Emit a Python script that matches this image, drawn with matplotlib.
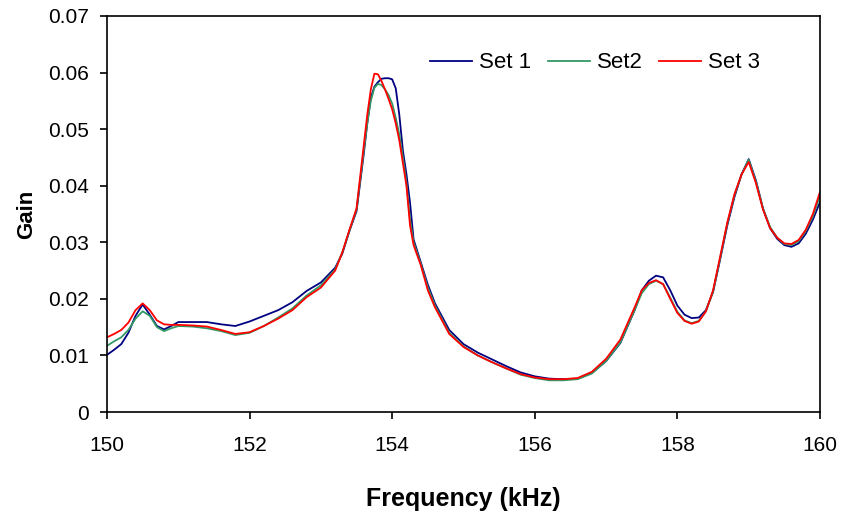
import numpy as np
import matplotlib.pyplot as plt

plt.rcParams['font.family'] = ['Liberation Sans', 'DejaVu Sans']

freq = [150.0, 150.1, 150.2, 150.3, 150.4, 150.5, 150.6, 150.7, 150.8, 150.9,
        151.0, 151.2, 151.4, 151.6, 151.8, 152.0, 152.2, 152.4, 152.6, 152.8,
        153.0, 153.2, 153.3, 153.4, 153.5, 153.6, 153.65, 153.7, 153.75, 153.8,
        153.85, 153.9, 153.95, 154.0, 154.05, 154.1, 154.15, 154.2, 154.25, 154.3,
        154.4, 154.5, 154.6, 154.8, 155.0, 155.2, 155.4, 155.6, 155.8, 156.0,
        156.2, 156.4, 156.6, 156.8, 157.0, 157.2, 157.4, 157.5, 157.6, 157.7,
        157.8, 157.9, 158.0, 158.1, 158.2, 158.3, 158.4, 158.5, 158.6, 158.7,
        158.8, 158.9, 159.0, 159.1, 159.2, 159.3, 159.4, 159.5, 159.6, 159.7,
        159.8, 159.9, 160.0]

set1 = [0.0101, 0.0110, 0.0120, 0.0140, 0.0170, 0.0190, 0.0172, 0.0152, 0.0146, 0.0152,
        0.0159, 0.0159, 0.0159, 0.0155, 0.0152, 0.0160, 0.0170, 0.0180, 0.0194, 0.0214,
        0.0229, 0.0255, 0.0280, 0.0320, 0.0355, 0.0455, 0.0510, 0.0555, 0.0575, 0.0583,
        0.0589, 0.0590, 0.0590, 0.0588, 0.0572, 0.0525, 0.0462, 0.0420, 0.0370, 0.0305,
        0.0265, 0.0225, 0.0192, 0.0145, 0.0120, 0.0105, 0.0093, 0.0081, 0.0070, 0.0063,
        0.0059, 0.0058, 0.0059, 0.0069, 0.0090, 0.0122, 0.0180, 0.0215, 0.0232, 0.0241,
        0.0238, 0.0215, 0.0188, 0.0172, 0.0166, 0.0167, 0.0180, 0.0212, 0.0270, 0.0330,
        0.0380, 0.0420, 0.0447, 0.0410, 0.0360, 0.0325, 0.0306, 0.0295, 0.0292, 0.0298,
        0.0315, 0.0340, 0.0371]

set2 = [0.0117, 0.0125, 0.0132, 0.0145, 0.0165, 0.0178, 0.0170, 0.0150, 0.0143, 0.0148,
        0.0152, 0.0151, 0.0148, 0.0143, 0.0136, 0.0140, 0.0152, 0.0167, 0.0183, 0.0206,
        0.0224, 0.0252, 0.0282, 0.0320, 0.0358, 0.0460, 0.0510, 0.0550, 0.0573, 0.0580,
        0.0578, 0.0570, 0.0560, 0.0545, 0.0520, 0.0490, 0.0450, 0.0405, 0.0340, 0.0300,
        0.0262, 0.0220, 0.0188, 0.0140, 0.0116, 0.0100, 0.0088, 0.0077, 0.0066, 0.0060,
        0.0056, 0.0056, 0.0058, 0.0068, 0.0090, 0.0123, 0.0180, 0.0210, 0.0226, 0.0232,
        0.0226, 0.0202, 0.0177, 0.0162, 0.0157, 0.0161, 0.0178, 0.0213, 0.0272, 0.0333,
        0.0383, 0.0420, 0.0446, 0.0408, 0.0360, 0.0327, 0.0308, 0.0297, 0.0295, 0.0302,
        0.0320, 0.0346, 0.0382]

set3 = [0.0132, 0.0138, 0.0145, 0.0158, 0.0180, 0.0192, 0.0180, 0.0162, 0.0155, 0.0154,
        0.0154, 0.0153, 0.0151, 0.0145, 0.0138, 0.0141, 0.0152, 0.0165, 0.0180, 0.0203,
        0.0220, 0.0250, 0.0282, 0.0322, 0.0360, 0.0470, 0.0525, 0.0570, 0.0598, 0.0597,
        0.0585, 0.0570, 0.0553, 0.0535, 0.0510, 0.0480, 0.0440, 0.0400, 0.0330, 0.0295,
        0.0260, 0.0215, 0.0185, 0.0138, 0.0115, 0.0100, 0.0088, 0.0077, 0.0067, 0.0061,
        0.0058, 0.0058, 0.0060, 0.0071, 0.0094, 0.0128, 0.0185, 0.0215, 0.0228, 0.0233,
        0.0226, 0.0200, 0.0175, 0.0161, 0.0156, 0.0160, 0.0178, 0.0215, 0.0275, 0.0335,
        0.0385, 0.0420, 0.0442, 0.0405, 0.0358, 0.0325, 0.0308, 0.0298, 0.0297, 0.0304,
        0.0322, 0.0350, 0.0389]

labels = ["Set 1", "Set2", "Set 3"]
colors = ["#000080", "#339966", "#ff0000"]

fig = plt.figure(figsize=(8.43, 5.16), dpi=100)
ax = fig.add_axes([107 / 843, 1 - 412 / 516, 713 / 843, 396 / 516])

for y, lab, c in zip([set1, set2, set3], labels, colors):
    ax.plot(freq, y, color=c, lw=1.3, label=lab)

ax.set_xlim(150, 160)
ax.set_ylim(0, 0.07)
ax.set_xticks(np.arange(150, 161, 2))
ax.set_yticks(np.arange(0, 0.0701, 0.01))
ax.set_yticklabels(["0"] + [f"{v:.2f}" for v in np.arange(0.01, 0.0701, 0.01)])
ax.tick_params(direction="out", length=5, width=1.2, labelsize=15)
ax.tick_params(axis="x", pad=12)
ax.tick_params(axis="y", pad=8)
for s in ax.spines.values():
    s.set_linewidth(1.2)

ax.set_xlabel("Frequency (kHz)", fontsize=18, fontweight="bold", labelpad=23)
ax.set_ylabel("Gain", fontsize=16, fontweight="bold", labelpad=8)

ax.legend(loc="center right", bbox_to_anchor=(760 / 843, 1 - 63 / 516),
          bbox_transform=fig.transFigure, ncol=3, frameon=False,
          fontsize=16, handlelength=1.9, columnspacing=0.75, handletextpad=0.3,
          borderpad=0, borderaxespad=0)

fig.savefig("out.png", dpi=100)
